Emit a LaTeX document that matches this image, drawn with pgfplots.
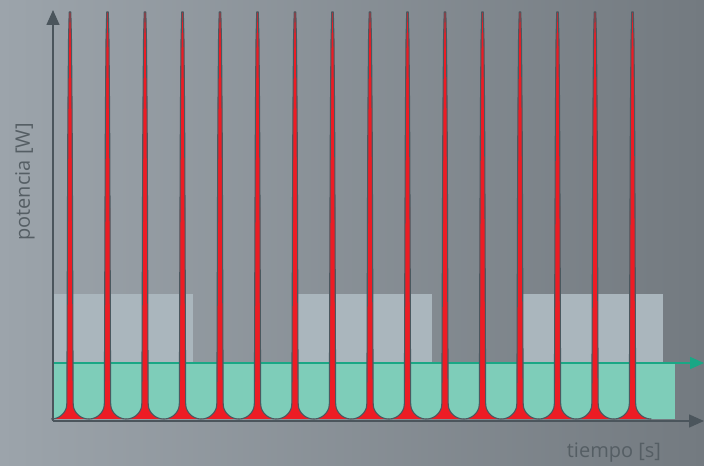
\documentclass[border=0pt]{standalone}
\usepackage{fontspec}
\setmainfont{Open Sans}
\usepackage{pgfplots}
\usepackage{pgfplotstable}
\pgfplotsset{compat=1.18}
\usetikzlibrary{arrows.meta}

\definecolor{bgL}{HTML}{9CA4AB}
\definecolor{bgR}{HTML}{737A80}
\definecolor{axisgray}{HTML}{4B555C}
\definecolor{labelgray}{HTML}{555E64}
\definecolor{blockgray}{HTML}{AAB6BD}
\definecolor{tealfill}{HTML}{7ECDB9}
\definecolor{tealline}{HTML}{1AA785}
\definecolor{spikered}{HTML}{ED1C24}
\definecolor{spikeline}{HTML}{4A5960}

% one pulse, offset from its centre (d) and power (y)
\pgfplotstableread{
d y
-18.75 2
-16.75 2.13
-14.75 2.52
-12.75 3.19
-10.75 4.18
-8.75 5.58
-6.75 7.55
-5.75 8.86
-4.75 10.53
-3.75 12.95
-3.35 15.2
-3.15 18
-3.05 40
-2.85 100
-2.55 200
-2.15 300
-1.5 380
-0.8 409
0.8 409
1.5 380
2.15 300
2.55 200
2.85 100
3.05 40
3.15 18
3.35 15.2
3.75 12.95
4.75 10.53
5.75 8.86
6.75 7.55
8.75 5.58
10.75 4.18
12.75 3.19
14.75 2.52
16.75 2.13
18.75 2
}\pulse

\begin{document}
\begin{tikzpicture}
\useasboundingbox (0,0) rectangle (704bp,466bp);
\shade[left color=bgL,right color=bgR] (0,0) rectangle (704bp,466bp);
\begin{axis}[
    at={(53bp,45bp)}, anchor=south west,
    scale only axis, width=651bp, height=411bp,
    xmin=53, xmax=704, ymin=0, ymax=411,
    enlargelimits=false, clip=false,
    axis lines=left, axis on top,
    axis line style={draw=axisgray, line width=1.5bp, -{Triangle[length=15bp,width=13bp]}},
    xtick=\empty, ytick=\empty,
    no markers,
  ]
  % demand blocks
  \addplot[fill=blockgray, draw=none] coordinates {(53,2) (53,127) (193,127) (193,2)};
  \addplot[fill=blockgray, draw=none] coordinates {(298,2) (298,127) (432,127) (432,2)};
  \addplot[fill=blockgray, draw=none] coordinates {(523,2) (523,127) (663,127) (663,2)};
  % average level
  \addplot[fill=tealfill, draw=none] coordinates {(53,2) (53,58) (675,58) (675,2)};
  \addplot[tealline, line width=1.5bp, -{Triangle[length=14bp,width=12bp]}] coordinates {(53,58) (704,58)};
  % pulses
  \pgfplotsinvokeforeach{70,107.5,145,182.5,220,257.5,295,332.5,370,407.5,445,482.5,520,557.5,595,632.5}{
    \addplot[fill=spikered, draw=spikeline, line width=1.1bp, line join=round]
      table[x expr=\thisrow{d}+#1, y=y] {\pulse};
  }
\end{axis}
\node[rotate=90, text=labelgray, font=\fontsize{20bp}{24bp}\selectfont] at (25bp,284bp) {potencia [W]};
\node[text=labelgray, font=\fontsize{20bp}{24bp}\selectfont] at (614bp,13bp) {tiempo [s]};
\end{tikzpicture}
\end{document}
